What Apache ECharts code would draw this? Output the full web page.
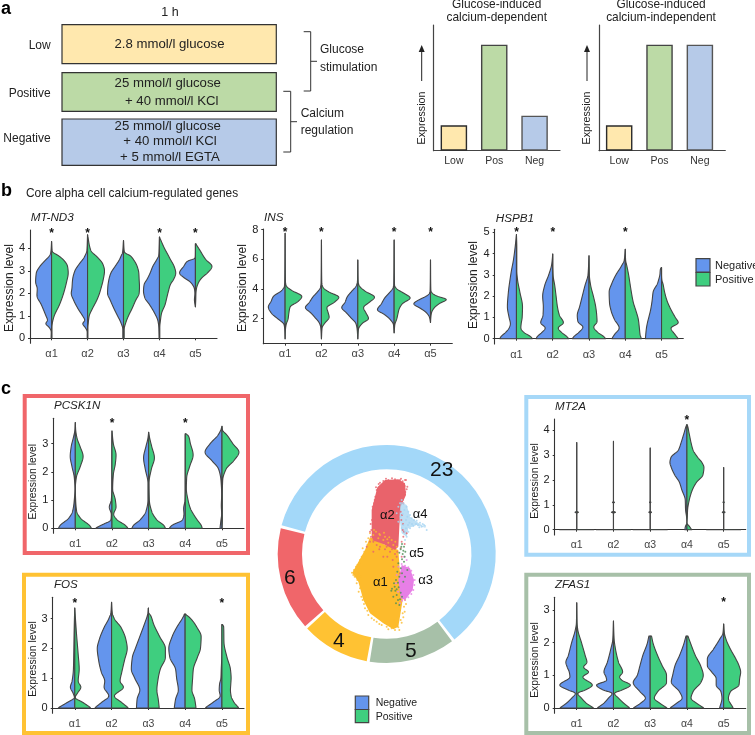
<!DOCTYPE html>
<html><head><meta charset="utf-8"><title>Calcium-regulated genes</title>
<style>html,body{margin:0;padding:0;background:#fff}#c{width:755px;height:735px}</style>
<script src="https://cdn.jsdelivr.net/npm/echarts@6/dist/echarts.min.js"></script></head>
<body><div id="c"></div>
<script>
// ---------- data ----------
const CLUSTERS = ['α1','α2','α3','α4','α5'];
const BAR_CATS = ['Low','Pos','Neg'];
const BARS_DEPENDENT = [24,100,33];
const BARS_INDEPENDENT = [24,100,100];
const RING_VALUES = [23,5,4,6];
// Violin rows: [expression, negative density, positive density]; 54 density = half a category band
const MT_ND3 = [
 [[4.3,0,0],[3.85,2,2],[3.7,5,18],[3.45,20,38],[3.2,35,48],[2.9,46,50],[2.5,48,45],[2.2,43,40],[1.9,44,34],[1.5,31,24],[1.0,17,8],[.8,12,4],[.65,18,2],[.5,8,1],[.3,1,1],[0,1.5,1]],
 [[4.6,0,0],[3.9,2,10],[3.6,10,30],[3.3,25,46],[3.0,38,51],[2.6,45,47],[2.2,47,40],[2.0,49,36],[1.7,42,28],[1.3,28,14],[1.0,15,5],[.8,8,3],[.65,15,2],[.5,8,1],[.3,1,1],[0,1,1]],
 [[4.35,0,0],[3.8,3,3],[3.7,6,18],[3.5,12,30],[3.2,25,41],[2.9,38,46],[2.6,44,47],[2.3,47,48],[2.0,48,47],[1.7,40,37],[1.3,28,25],[1.0,18,15],[.7,8,7],[.4,2,2],[0,2,2]],
 [[4.5,0,0],[4.0,1,15],[3.7,2,26],[3.5,8,33],[3.2,20,44],[2.9,28,49],[2.6,38,42],[2.4,46,33],[2.1,48,27],[1.8,44,22],[1.5,30,17],[1.1,14,6],[.8,5,3],[.5,2,1],[0,1,1]],
 [[4.2,0,1],[3.9,0,14],[3.52,1,30],[3.47,20,33],[3.2,35,50],[2.9,48,36],[2.7,35,20],[2.5,15,10],[2.2,3,3],[2,1.5,1.5],[1.7,3,1],[1.4,0,0]]
];
const INS = [
 [[7.75,0,0],[4.5,1,1],[4.2,2,4],[3.9,10,20],[3.5,35,50],[3.15,42,38],[2.8,50,15],[2.35,40,11],[2.0,22,9],[1.6,3,3],[1.2,.8,.8],[.65,0,0]],
 [[7.3,0,0],[4.4,1,1],[4.1,3,5],[3.8,12,22],[3.45,26,52],[3.1,36,38],[2.75,48,16],[2.4,32,20],[2.1,20,23],[1.7,6,10],[1.4,2,2],[.65,0,0]],
 [[5.95,0,0],[4.5,1,1],[4.2,5,5],[3.85,18,22],[3.45,32,50],[3.1,38,34],[2.75,48,17],[2.4,34,24],[2.0,18,32],[1.7,6,14],[1.3,2,2],[.65,0,0]],
 [[7.3,0,0],[4.3,1,1],[4.05,4,6],[3.7,16,30],[3.4,28,48],[3.0,38,24],[2.6,50,14],[2.3,30,11],[2.0,14,8],[1.6,2,2],[1.05,0,0]],
 [[5.95,0,0],[3.9,1,1],[3.7,3,6],[3.5,14,22],[3.3,32,48],[3.0,50,25],[2.7,30,10],[2.4,12,3],[2.1,3,1],[1.75,0,0]]
];
const HSPB1 = [
 [[4.9,0,0],[4.3,4,1],[3.7,9,1],[3.2,15,1],[2.8,19,3],[2.2,24,10],[1.5,27,18],[1,22,17],[.7,18,14],[.5,22,13],[.3,32,22],[.1,46,42],[0,50,48]],
 [[3.98,0,0],[3.5,3,0],[3,12,1],[2.5,24,6],[2,30,10],[1.5,28,14],[1.1,29,20],[.75,36,32],[.5,22,16],[.3,32,26],[.1,46,42],[0,50,48]],
 [[3.9,0,0],[3,3,1],[2.5,12,5],[2,20,13],[1.5,28,20],[1.1,35,23],[.8,33,24],[.55,18,14],[.3,30,26],[.1,45,44],[0,50,50]],
 [[4.2,0,0],[3.7,3,1],[3.4,12,5],[3,28,10],[2.6,40,14],[2.2,48,18],[1.7,47,24],[1.3,42,32],[.9,32,39],[.5,18,42],[.2,32,44],[0,40,48]],
 [[3.35,0,0],[3.3,3,0],[3,5,0],[2.75,9,1],[2.6,12,4],[2.2,25,9],[1.8,28,16],[1.4,32,27],[1,38,41],[.75,42,50],[.5,45,28],[.2,47,40],[0,48,50]]
];
const PCSK1N = [
 [[3.75,0,0],[3.5,1,1],[3.2,6,5],[2.9,12,14],[2.55,15,23],[2.2,10,15],[1.8,3,3],[1.4,1,0],[1,3,1],[.6,8,4],[.35,20,16],[.1,45,42],[0,50,48]],
 [[3.45,0,0],[3,.5,4],[2.6,.5,12],[2.3,.5,10],[1.9,.5,4],[1.4,.5,2],[1,2,10],[.75,8,12],[.5,2,5],[.3,3,15],[.12,30,38],[0,50,48]],
 [[3.4,0,0],[3.2,2,3],[2.9,8,9],[2.5,15,17],[2.1,10,8],[1.6,2,1],[1,2,2],[.6,8,9],[.3,25,24],[.1,45,45],[0,50,50]],
 [[3.35,0,0],[3.3,.5,8],[3,.5,15],[2.6,.5,23],[2.2,.5,13],[1.8,.5,4],[1.4,.5,3],[1,1,8],[.7,5,15],[.5,4,24],[.3,8,35],[.1,40,47],[0,48,50]],
 [[3.62,0,0],[3.5,3,1],[3.3,12,15],[3,35,32],[2.7,50,50],[2.4,30,35],[2.1,10,12],[1.7,3,2],[1.2,1,1],[.8,2,1],[.5,1,1],[.3,3,1],[0,6,0]]
];
const FOS = [
 [[3.35,0,0],[3,1,2],[2.5,2,5],[1.8,3,10],[1.3,4,13],[.9,8,10],[.7,13,18],[.5,5,8],[.35,1,1],[.2,20,22],[0,50,48]],
 [[3.55,0,0],[3.2,2,2],[3,8,8],[2.7,22,28],[2.3,36,42],[2,42,46],[1.6,38,38],[1.2,30,30],[.9,20,25],[.7,22,35],[.4,8,8],[.2,28,28],[0,50,50]],
 [[3.35,0,0],[3.2,1,1],[3.1,3,7],[2.8,12,16],[2.4,25,33],[2,38,50],[1.7,47,50],[1.3,50,35],[1,40,29],[.6,25,25],[.3,33,29],[0,35,32]],
 [[3.15,2,0],[3.05,6,12],[2.7,25,35],[2.4,38,47],[2,48,45],[1.7,45,36],[1.3,28,24],[1,25,22],[.6,20,20],[.3,28,28],[0,32,32]],
 [[2.8,0,0],[2.75,0,5],[2.2,0,6],[1.7,.5,15],[1.3,2,25],[1,3,27],[.8,7,26],[.6,8,25],[.4,5,27],[.2,25,35],[0,50,50]]
];
const MT2A = [
 [[3.5,0,0],[.74,0,0],[.7,5,5],[.66,0,0],[.01,0,0],[0,50,50]],
 [[3.55,0,0],[1.14,0,0],[1.1,3,3],[1.06,0,0],[.74,0,0],[.7,6,6],[.66,0,0],[.01,0,0],[0,50,50]],
 [[3.28,0,0],[1.14,0,0],[1.1,2,2],[1.06,0,0],[.74,0,0],[.7,4,4],[.66,0,0],[.01,0,0],[0,50,50]],
 [[4.22,0,0],[4.2,1,1],[3.9,8,6],[3.5,17,12],[3.2,25,18],[2.9,47,32],[2.7,50,44],[2.5,46,50],[2.2,36,47],[1.9,22,28],[1.6,15,16],[1.2,5,7],[.8,4,2],[.5,1,1],[.3,0,0],[.1,5,9],[0,6,14]],
 [[2.5,0,0],[1.14,0,0],[1.1,2,2],[1.06,0,0],[.74,0,0],[.7,4,4],[.66,0,0],[.01,0,0],[0,50,50]]
];
const ZFAS1 = [
 [[3.22,0,0],[2.6,1,1],[2.4,4,3],[2,15,14],[1.6,25,25],[1.4,32,30],[1.25,28,20],[1.1,22,35],[.95,20,18],[.7,50,46],[.55,25,25],[.45,4,3],[.3,15,14],[.15,30,28],[0,50,50]],
 [[2.66,0,0],[2.1,2,2],[1.8,8,6],[1.4,18,15],[1.1,28,27],[.95,22,18],[.85,20,25],[.7,50,50],[.55,30,25],[.45,4,3],[.3,15,15],[.15,28,30],[0,48,48]],
 [[2.2,4,4],[2,8,8],[1.6,22,22],[1.3,30,35],[1,38,48],[.78,50,48],[.5,30,22],[.3,14,12],[.15,28,28],[0,50,50]],
 [[2.2,3,3],[2,8,10],[1.6,22,25],[1.3,35,40],[1,42,48],[.8,46,42],[.5,22,18],[.3,14,12],[.15,30,28],[0,50,50]],
 [[2.57,0,0],[2.3,2,2],[2.1,12,7],[1.8,30,20],[1.5,48,36],[1.3,48,45],[1.1,35,50],[.9,22,47],[.7,22,45],[.5,8,20],[.3,5,14],[0,12,28]]
];
const STARS_MT_ND3 = [1,2,4,5], STARS_INS = [1,2,4,5], STARS_HSPB1 = [1,2,4],
      STARS_PCSK1N = [2,4], STARS_FOS = [1,5], STARS_MT2A = [4], STARS_ZFAS1 = [5];
// Embedding: cluster outlines and stray cells (embedding units)
const ALPHA1_OUTLINE = [[300,412],[340,432],[385,450],[390,520],[398,600],[385,680],[370,688],[340,670],[300,640],[280,600],[265,545],[247,518],[285,450]];
const ALPHA2_OUTLINE = [[322,262],[345,240],[385,238],[405,250],[408,285],[392,320],[388,380],[385,440],[375,450],[340,432],[305,420],[305,330],[315,290]];
const ALPHA4_OUTLINE = [[392,305],[410,315],[420,350],[440,365],[470,385],[440,375],[415,385],[410,410],[395,400],[388,350]];
const ALPHA3_OUTLINE = [[395,495],[420,505],[432,540],[428,570],[405,600],[392,595],[385,540]];
const ALPHA1_CELLS = [[310,405],[325,415],[340,420],[355,428],[370,435],[318,395],[300,400],[345,410],[365,420],[380,440],[252,510],[246,518],[250,525],[258,500],[262,540],[268,490],[275,470],[270,565],[278,600],[285,625],[295,645],[305,655],[320,665],[335,675],[350,680],[365,685],[375,690],[385,682],[392,660],[398,640],[402,620],[405,600],[382,675],[372,660],[360,672],[345,668],[258,512],[272,530],[265,520],[283,455],[292,435],[306,418],[330,405],[352,418],[312,390],[328,402],[342,398],[358,412],[376,425],[295,415],[288,425],[278,445],[270,480],[262,495],[254,530],[260,550],[266,575],[274,590],[282,612],[292,632],[312,660],[328,672],[355,688],[395,668],[400,652],[408,612],[404,635],[388,690]];
const ALPHA2_CELLS = [[320,270],[316,290],[312,310],[310,335],[306,360],[304,390],[303,410],[330,248],[340,243],[355,240],[375,238],[390,240],[408,240],[404,258],[410,268],[403,285],[398,300],[392,335],[394,360],[398,390],[400,410],[395,425],[392,445],[404,432],[410,400],[330,440],[345,448],[360,455],[375,462],[300,425],[320,435],[338,428],[352,470],[368,480],[380,470],[290,440],[395,470],[390,520],[370,500],[340,470],[310,455],[318,262],[326,252],[348,236],[366,235],[398,244],[412,260],[406,276],[400,310],[396,345],[399,372],[402,395],[310,425],[328,448],[350,440],[366,448],[382,455],[300,395],[302,372],[308,320],[314,300],[405,240],[393,236]];
const ALPHA3_CELLS = [[395,492],[405,497],[415,502],[424,512],[430,525],[434,540],[433,555],[430,570],[424,582],[415,592],[405,600],[396,602],[385,500],[380,525],[378,550],[384,575],[390,610],[410,480],[402,470]];
const ALPHA4_CELLS = [[395,300],[400,310],[385,320],[410,320],[415,335],[420,345],[425,355],[432,360],[440,362],[450,368],[458,372],[465,378],[470,390],[462,375],[448,382],[430,378],[420,385],[415,395],[410,410],[405,420],[400,375],[392,350],[418,368],[408,385],[412,350],[380,340],[385,365],[395,385],[403,330],[398,342],[408,360],[414,375],[426,372],[438,372],[444,376],[455,380],[390,310],[405,395]];
const ALPHA5_CELLS = [[396,432],[402,440],[392,448],[406,455],[398,462],[388,458],[404,470],[396,478],[385,490],[392,505],[382,515],[388,530],[378,540],[372,550],[384,548],[366,566],[376,572],[386,562],[380,585],[370,590],[392,578],[384,600],[378,610],[396,520],[405,530],[400,545],[412,510],[396,590],[388,615],[402,485],[364,572],[374,560],[390,598],[380,568],[394,440],[400,452]];

// ---------- styling / layout ----------
const FONT = '"Liberation Sans", Arial, sans-serif';
const NEG = '#6495ED', POS = '#3FCE7F', STROKE = '#444';
const DENS_HALF = 54;
const PANELS = [
 {rows:MT_ND3, stars:STARS_MT_ND3, starY:4.74, left:30, right:217, top:230, bottom:343.3, y0:338.3, unit:22.5, yoff:0, ticks:[0,1,2,3,4], fs:11, soft:2},
 {rows:INS, stars:STARS_INS, starY:7.97, left:263.3, right:452.3, top:229, bottom:343.7, y0:318.7, unit:14.85, yoff:2, ticks:[2,4,6,8], fs:11, soft:1.5},
 {rows:HSPB1, stars:STARS_HSPB1, starY:5.08, left:494.7, right:683.3, top:229.3, bottom:344, y0:338.7, unit:21.27, yoff:0, ticks:[0,1,2,3,4,5], fs:11, soft:1.5},
 {rows:PCSK1N, stars:STARS_PCSK1N, starY:3.81, left:53.3, right:244, top:418.3, bottom:533.3, y0:528.3, unit:28.2, yoff:0, ticks:[0,1,2,3], fs:10.5, soft:1.5},
 {rows:FOS, stars:STARS_FOS, starY:3.6, left:52.7, right:244, top:597.3, bottom:713.3, y0:708, unit:29.8, yoff:0, ticks:[0,1,2,3], fs:10.5, soft:1.5},
 {rows:MT2A, stars:STARS_MT2A, starY:4.49, left:554.7, right:745.7, top:419, bottom:535, y0:529.7, unit:24.9, yoff:0, ticks:[0,1,2,3,4], fs:10.5, soft:0},
 {rows:ZFAS1, stars:STARS_ZFAS1, starY:3.29, left:554.7, right:745.7, top:597.3, bottom:713.3, y0:708, unit:32.67, yoff:0, ticks:[0,1,2,3], fs:10.5, soft:1}
];

function pchip(xs, ys, step){
  const n=xs.length, h=[], d=[], m=new Array(n).fill(0);
  for(let i=0;i<n-1;i++){h[i]=xs[i+1]-xs[i]; d[i]=(ys[i+1]-ys[i])/h[i];}
  m[0]=d[0]; m[n-1]=d[n-2];
  for(let i=1;i<n-1;i++){
    if(d[i-1]*d[i]<=0) m[i]=0;
    else {const a=2*h[i]+h[i-1], b=h[i]+2*h[i-1]; m[i]=(a+b)/(a/d[i-1]+b/d[i]);}
  }
  const out=[];
  for(let i=0;i<n-1;i++){
    const k=Math.max(1,Math.ceil(h[i]/step));
    for(let j=0;j<k;j++){
      const t=j/k,t2=t*t,t3=t2*t;
      const v=(2*t3-3*t2+1)*ys[i]+(t3-2*t2+t)*h[i]*m[i]+(-2*t3+3*t2)*ys[i+1]+(t3-t2)*h[i]*m[i+1];
      out.push([xs[i]+t*h[i],Math.max(0,v)]);
    }
  }
  out.push([xs[n-1],ys[n-1]]);
  return out;
}
// soften the drawn outline over a short span (pixels), as kernel densities are smooth
function soften(pts,span){
  if(!span) return pts;
  return pts.map((p,i)=>{
    let sw=0,sx=0;
    for(let j=Math.max(0,i-80);j<Math.min(pts.length,i+81);j++){
      const dy=Math.abs(pts[j][1]-p[1]);
      if(dy<=span){const k=span-dy+0.01;sw+=k;sx+=k*pts[j][0];}
    }
    return [sx/sw,p[1]];
  });
}

const grid=[],xAxis=[],yAxis=[],series=[];
function violinRender(panel){
  return function(params,api){
    const cat=api.value(0), rows=panel.rows[cat-1].slice().reverse();
    const band=api.size([1,0])[0], kids=[];
    const ys=rows.map(r=>r[0]);
    const stepVal=0.4/panel.unit;
    [[1,-1,NEG],[2,1,POS]].forEach(([col,s,fill])=>{
      const curve=pchip(ys,rows.map(r=>r[col]),stepVal);
      let pts=curve.map(([y,w])=>{const p=api.coord([cat,y]);return [p[0]+s*w/DENS_HALF*band/2,p[1]];});
      pts=soften(pts,panel.soft);
      const top=api.coord([cat,ys[ys.length-1]]), bot=api.coord([cat,ys[0]]);
      pts.push(top,bot);
      kids.push({type:'polygon',shape:{points:pts},style:{fill,stroke:STROKE,lineWidth:1.1,lineJoin:'round'}});
    });
    if(panel.stars.includes(cat)){
      const p=api.coord([cat,panel.starY]);
      kids.push({type:'text',style:{text:'*',x:p[0],y:p[1]+2.5,align:'center',verticalAlign:'middle',font:'bold 12px '+FONT,fill:'#111'}});
    }
    return {type:'group',children:kids};
  };
}
PANELS.forEach((p,i)=>{
  const g=grid.length;
  grid.push({left:p.left,top:p.top,width:p.right-p.left,height:p.bottom-p.top});
  const ticks=p.ticks;
  const base=p.yoff;
  xAxis.push({gridIndex:g,type:'value',min:0.4,max:5.6,splitLine:{show:false},
    axisLine:{show:true,lineStyle:{color:'#333',width:1.1}},
    axisTick:{show:true,length:2,customValues:[1,2,3,4,5],lineStyle:{color:'#333'}},
    axisLabel:{customValues:[1,2,3,4,5],formatter:v=>CLUSTERS[v-1],color:'#444',fontSize:p.fs,fontFamily:FONT,margin:5}});
  yAxis.push({gridIndex:g,type:'value',min:base+(p.y0-p.bottom)/p.unit,max:base+(p.y0-p.top)/p.unit,splitLine:{show:false},
    axisLine:{show:true,onZero:false,lineStyle:{color:'#333',width:1.1}},
    axisTick:{show:true,length:2,customValues:ticks,lineStyle:{color:'#333'}},
    axisLabel:{customValues:ticks,color:'#222',fontSize:11,fontFamily:FONT,margin:5}});
  series.push({type:'custom',xAxisIndex:g,yAxisIndex:g,coordinateSystem:'cartesian2d',clip:false,silent:true,
    encode:{x:0,y:1},data:p.rows.map((r,k)=>[k+1,r[0][0]]),renderItem:violinRender(p)});
});

// schematic bars
[[433.7,BARS_DEPENDENT],[599,BARS_INDEPENDENT]].forEach(([left,vals])=>{
  const g=grid.length;
  grid.push({left,top:25,width:126.3,height:125.7});
  xAxis.push({gridIndex:g,type:'value',min:0.5,max:3.63,splitLine:{show:false},
    axisLine:{show:true,lineStyle:{color:'#444',width:1.2}},axisTick:{show:false},
    axisLabel:{customValues:[1,2,3],formatter:v=>BAR_CATS[v-1],color:'#333',fontSize:10.5,fontFamily:FONT,margin:5}});
  yAxis.push({gridIndex:g,type:'value',min:0,max:118.6,splitLine:{show:false},
    axisLine:{show:true,onZero:false,lineStyle:{color:'#444',width:1.2}},axisTick:{show:false},axisLabel:{show:false}});
  const colors=['#FFE8AE','#BCDAA6','#B6CAE8'], edges=['#2b2b2b','#444','#555'];
  series.push({type:'bar',xAxisIndex:g,yAxisIndex:g,barWidth:26.5,silent:true,
    data:vals.map((v,i)=>({value:[i+1,v],itemStyle:{color:colors[i],borderColor:edges[i],borderWidth:1.4}}))});
});

// ring
series.push({type:'pie',center:[386.7,554],radius:[84.7,109],startAngle:165.5,padAngle:1.6,silent:true,
  label:{position:'inside',formatter:'{c}',fontSize:21,color:'#111',fontFamily:FONT},labelLine:{show:false},
  data:[{value:RING_VALUES[0],itemStyle:{color:'#A3D8F9'}},{value:RING_VALUES[1],itemStyle:{color:'#A7C0A8'}},
        {value:RING_VALUES[2],itemStyle:{color:'#FFC233'}},{value:RING_VALUES[3],itemStyle:{color:'#F0666A'}}]});

// embedding
const ug=grid.length;
grid.push({left:270,top:400,width:240,height:335});
xAxis.push({gridIndex:ug,type:'value',min:0,max:720,show:false});
yAxis.push({gridIndex:ug,type:'value',min:0,max:1005,inverse:true,show:false});
[[ALPHA1_OUTLINE,'#FDBB2C',1],[ALPHA2_OUTLINE,'#E9636B',1],[ALPHA4_OUTLINE,'#A6D4F2',.75],[ALPHA3_OUTLINE,'#E77FE6',1]].forEach(([pts,color,opacity])=>{
  series.push({type:'custom',xAxisIndex:ug,yAxisIndex:ug,coordinateSystem:'cartesian2d',silent:true,data:pts,
    renderItem:(params,api)=>params.dataIndex===0?{type:'polygon',shape:{points:pts.map(q=>api.coord(q))},style:{fill:color,opacity}}:null});
});
[[ALPHA1_CELLS,'#FDBB2C'],[ALPHA2_CELLS,'#E9636B'],[ALPHA3_CELLS,'#E77FE6'],[ALPHA4_CELLS,'#A6D4F2'],[ALPHA5_CELLS,'#4E8F55']].forEach(([pts,color])=>{
  series.push({type:'scatter',xAxisIndex:ug,yAxisIndex:ug,symbolSize:2,silent:true,itemStyle:{color},data:pts});
});

// annotation
const G=[];
const T=(text,x,y,o={})=>G.push({type:'text',x,y,rotation:o.rot||0,z:20,silent:true,style:{text,align:o.align||'left',verticalAlign:'middle',
  font:(o.style||'')+' '+(o.size||11)+'px '+FONT,fill:o.fill||'#222'}});
const R=(x,y,w,h,fill,stroke,lw)=>G.push({type:'rect',z:5,silent:true,shape:{x,y,width:w,height:h},style:{fill,stroke,lineWidth:lw}});
const L=(pts,lw=1,c='#333')=>G.push({type:'polyline',z:5,silent:true,shape:{points:pts},style:{stroke:c,lineWidth:lw,fill:null}});
T('a',1,9,{style:'bold',size:18,fill:'#000'}); T('b',1,191,{style:'bold',size:18,fill:'#000'}); T('c',1,389,{style:'bold',size:18,fill:'#000'});
T('1 h',170,13,{align:'center',size:12.5});
R(62,24.7,214.3,39,'#FFE8AE','#333',1.2); R(62,72.7,214.3,38.6,'#BCDAA6','#333',1.2); R(62,119,214.3,46.3,'#B6CAE8','#333',1.2);
const BOX={align:'center',size:13.2};
T('2.8 mmol/l glucose',169.5,44,BOX);
T('25 mmol/l glucose',167.7,83,BOX); T('+ 40 mmol/l KCl',171.7,101,BOX);
T('25 mmol/l glucose',167.7,126,BOX); T('+ 40 mmol/l KCl',170,141.7,BOX); T('+ 5 mmol/l EGTA',170,157.7,BOX);
T('Low',50.7,45.3,{align:'right',size:12}); T('Positive',50.7,93.3,{align:'right',size:12}); T('Negative',50.7,139,{align:'right',size:12});
L([[303.7,31.7],[310.7,31.7],[310.7,91],[303.7,91]]); L([[310.7,61.3],[317,61.3]]);
T('Glucose',320,50,{size:12}); T('stimulation',320,68,{size:12});
L([[283.3,91.3],[290.7,91.3],[290.7,152],[283.3,152]]); L([[290.7,121.7],[297,121.7]]);
T('Calcium',300.7,113.3,{size:12}); T('regulation',300.7,131,{size:12});
T('Glucose-induced',496.7,5,{align:'center',size:11.9}); T('calcium-dependent',496.7,18,{align:'center',size:11.9});
T('Glucose-induced',661,5,{align:'center',size:11.9}); T('calcium-independent',661,18,{align:'center',size:11.9});
[421.7,587].forEach(x=>{
  T('Expression',x,118,{align:'center',rot:Math.PI/2,size:10.7});
  L([[x,81],[x,49]],1,'#222');
  G.push({type:'polygon',z:5,silent:true,shape:{points:[[x-3,52],[x+3,52],[x,45]]},style:{fill:'#222'}});
});
T('Core alpha cell calcium-regulated genes',26,194,{size:11.9});
T('MT-ND3',30.7,218,{style:'italic',size:11.7}); T('INS',264,218,{style:'italic',size:11.7}); T('HSPB1',495.7,219,{style:'italic',size:11.7});
T('PCSK1N',54,405.7,{style:'italic',size:11.6}); T('FOS',54,585,{style:'italic',size:11.6}); T('MT2A',555,406.3,{style:'italic',size:11.6}); T('ZFAS1',555,585,{style:'italic',size:11.6});
[[10,288,12.1],[243,288,12.1],[474,285,12.1],[33.3,481.7,10.4],[33,659,10.4],[535,481,10.4],[535,660,10.4]].forEach(([x,y,s])=>T('Expression level',x,y,{align:'center',rot:Math.PI/2,size:s}));
R(696,258.7,14,13.5,NEG,'#444',1.2); R(696,272.5,14,13.5,POS,'#444',1.2);
T('Negative',715,265.5,{size:11}); T('Positive',715,280,{size:11});
R(355.3,696,13.4,13.5,NEG,'#444',1.2); R(355.3,709.5,13.4,13.2,POS,'#444',1.2);
T('Negative',375.7,702.7,{size:10.5}); T('Positive',375.7,716.7,{size:10.5});
R(24.7,396,223.3,157,null,'#F0666A',4); R(24,574.7,224,158.3,null,'#FFC233',4);
R(526.3,397,222.7,157.7,null,'#A6D8F8',4); R(526.3,574.7,222.7,158.3,null,'#A7C0A8',4);
T('α2',387.3,515.7,{align:'center',size:13,fill:'#111'}); T('α4',420,514.7,{align:'center',size:13,fill:'#111'});
T('α5',416.7,553,{align:'center',size:13,fill:'#111'}); T('α3',425.7,580.7,{align:'center',size:13,fill:'#111'}); T('α1',380.3,582.3,{align:'center',size:13,fill:'#111'});

const chart=echarts.init(document.getElementById('c'),null,{renderer:'canvas'});
chart.setOption({animation:false,backgroundColor:'#fff',grid,xAxis,yAxis,series,graphic:{elements:G}});
</script></body></html>
